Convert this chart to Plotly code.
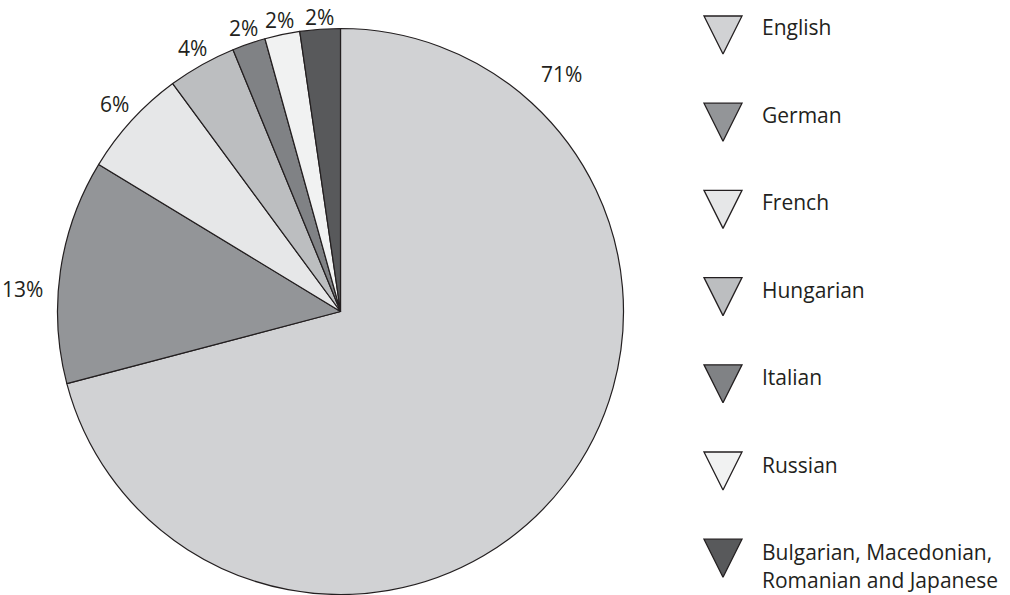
import math
import plotly.graph_objects as go

languages = ["English", "German", "French", "Hungarian", "Italian", "Russian",
             "Bulgarian, Macedonian, Romanian and Japanese"]
legend_text = ["English", "German", "French", "Hungarian", "Italian", "Russian",
               "Bulgarian, Macedonian,<br>Romanian and Japanese"]
shares = [70.9, 12.8, 6.2, 3.9, 1.9, 2.0, 2.3]
pct_labels = ["71%", "13%", "6%", "4%", "2%", "2%", "2%"]
colors = ["#d1d2d4", "#939598", "#e6e7e8", "#bcbec0", "#808285", "#f1f2f2", "#58595b"]

FONT = "Open Sans"
TXT = "#231f20"
FS = 21
W, H = 1010, 595

# pie geometry (pixels) -> domain
CX, CY, R = 340.5, 311.5, 283.0
pie_domain = dict(x=[(CX - R) / W, (CX + R) / W],
                  y=[max(0.0, 1 - (CY + R) / H), 1 - (CY - R) / H])

fig = go.Figure()
fig.add_trace(go.Pie(
    labels=languages, values=shares,
    textinfo="none", sort=False, direction="clockwise", rotation=0,
    marker=dict(colors=colors, line=dict(color=TXT, width=1.2)),
    showlegend=False, hoverinfo="skip",
    domain=pie_domain,
))

# percentage labels placed just outside each slice
# (angle overrides / extra offsets reproduce the hand placement of the original)
LABEL_ANGLE_OVERRIDE = {0: 43.0, 1: 274.0}
LABEL_EXTRA_OFFSET = {0: 14.0}
total = sum(shares)
cum = 0.0
annotations = []
for i, (v, lab) in enumerate(zip(shares, pct_labels)):
    mid = (cum + v / 2) / total * 360.0
    cum += v
    ang = LABEL_ANGLE_OVERRIDE.get(i, mid)
    s, c = math.sin(math.radians(ang)), math.cos(math.radians(ang))
    w_est = 12 * (len(lab) - 1) + 17
    off = 11 + 0.6 * w_est * abs(s) + LABEL_EXTRA_OFFSET.get(i, 0.0)
    px = CX + (R + off) * s
    py = CY - (R + off) * c
    annotations.append(dict(
        x=px / W, y=1 - py / H, xref="paper", yref="paper",
        text=lab, showarrow=False, xanchor="center", yanchor="middle",
        font=dict(family=FONT, size=FS, color=TXT),
    ))

rows = list(range(len(languages)))

# custom legend: wedge-like icons + labels
fig.add_trace(go.Scatter(
    x=[0] * len(rows), y=rows, mode="markers",
    marker=dict(symbol="arrow-down", size=38, color=colors,
                line=dict(color=TXT, width=1.3)),
    showlegend=False, hoverinfo="skip", cliponaxis=False,
    xaxis="x", yaxis="y",
))
fig.add_trace(go.Scatter(
    x=[1] * len(rows), y=rows, mode="text", text=legend_text,
    textposition="bottom right", textfont=dict(family=FONT, size=FS, color=TXT),
    showlegend=False, hoverinfo="skip", cliponaxis=False,
    xaxis="x", yaxis="y2",
))

fig.update_layout(
    width=W, height=H,
    margin=dict(l=0, r=0, t=0, b=0),
    paper_bgcolor="white", plot_bgcolor="rgba(0,0,0,0)",
    annotations=annotations,
    hovermode=False,
    xaxis=dict(domain=[0.68, 1.0], range=[-0.928, 7.359], visible=False, fixedrange=True),
    yaxis=dict(domain=[0, 1], range=[6.204, -0.619], visible=False, fixedrange=True),
    yaxis2=dict(domain=[0, 1], range=[6.577, -0.2229], visible=False, fixedrange=True,
                overlaying="y", anchor="x"),
)

fig.write_html("out.html", config={"displayModeBar": False, "staticPlot": True},
               post_script="document.body.style.margin='0';")
